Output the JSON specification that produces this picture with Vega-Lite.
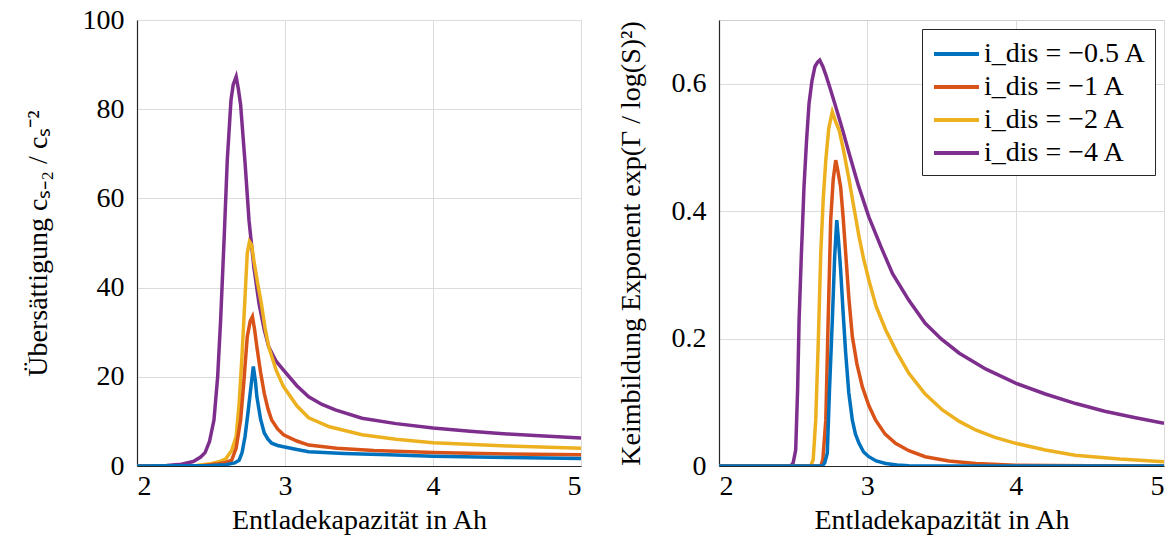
{
"$schema": "https://vega.github.io/schema/vega-lite/v6.json",
"padding": {"left": 23, "top": 5, "right": 0, "bottom": 0},
"bounds": "flush",
"spacing": 138,
"background": "white",
"config": {
  "font": "Liberation Serif",
  "view": {"stroke": "#cfcfcf", "strokeWidth": 1},
  "axis": {"labelFont": "Liberation Serif", "labelFontSize": 28, "labelColor": "#000000", "titleFont": "Liberation Serif", "titleFontSize": 28, "titleFontWeight": "normal", "titleColor": "#000000", "domainColor": "#262626", "domainWidth": 1.2, "ticks": false, "gridColor": "#dcdcdc", "gridWidth": 1, "labelPadding": 13},
  "axisX": {"labelPadding": 6, "titlePadding": 6},
  "legend": {"labelFont": "Liberation Serif", "labelFontSize": 28, "labelColor": "#000000", "labelLimit": 400}
},
"datasets": {
"L": [
{"s":"−4 A","x":2.0,"y":0},{"s":"−4 A","x":2.2,"y":0.1},{"s":"−4 A","x":2.3,"y":0.4},{"s":"−4 A","x":2.38,"y":1.0},{"s":"−4 A","x":2.43,"y":2},{"s":"−4 A","x":2.46,"y":3},{"s":"−4 A","x":2.49,"y":5.5},{"s":"−4 A","x":2.52,"y":10.3},{"s":"−4 A","x":2.545,"y":20},{"s":"−4 A","x":2.565,"y":32.7},{"s":"−4 A","x":2.59,"y":52},{"s":"−4 A","x":2.61,"y":68.6},{"s":"−4 A","x":2.635,"y":82},{"s":"−4 A","x":2.65,"y":85.5},{"s":"−4 A","x":2.67,"y":87.3},{"s":"−4 A","x":2.685,"y":84.5},{"s":"−4 A","x":2.70,"y":81},{"s":"−4 A","x":2.73,"y":68},{"s":"−4 A","x":2.757,"y":55},{"s":"−4 A","x":2.79,"y":44.5},{"s":"−4 A","x":2.824,"y":36.5},{"s":"−4 A","x":2.86,"y":30.5},{"s":"−4 A","x":2.89,"y":26.7},{"s":"−4 A","x":2.94,"y":23.5},{"s":"−4 A","x":2.99,"y":21.5},{"s":"−4 A","x":3.08,"y":18},{"s":"−4 A","x":3.16,"y":15.5},{"s":"−4 A","x":3.25,"y":13.8},{"s":"−4 A","x":3.34,"y":12.6},{"s":"−4 A","x":3.52,"y":10.7},{"s":"−4 A","x":3.75,"y":9.5},{"s":"−4 A","x":4.0,"y":8.5},{"s":"−4 A","x":4.25,"y":7.8},{"s":"−4 A","x":4.5,"y":7.2},{"s":"−4 A","x":4.75,"y":6.7},{"s":"−4 A","x":5.0,"y":6.3},
{"s":"−2 A","x":2.0,"y":0},{"s":"−2 A","x":2.4,"y":0.1},{"s":"−2 A","x":2.5,"y":0.5},{"s":"−2 A","x":2.56,"y":1},{"s":"−2 A","x":2.6,"y":1.6},{"s":"−2 A","x":2.64,"y":3.5},{"s":"−2 A","x":2.67,"y":6.6},{"s":"−2 A","x":2.69,"y":14},{"s":"−2 A","x":2.71,"y":25},{"s":"−2 A","x":2.73,"y":38},{"s":"−2 A","x":2.745,"y":47.7},{"s":"−2 A","x":2.76,"y":50.3},{"s":"−2 A","x":2.775,"y":49.5},{"s":"−2 A","x":2.79,"y":46},{"s":"−2 A","x":2.815,"y":41},{"s":"−2 A","x":2.84,"y":36.5},{"s":"−2 A","x":2.865,"y":31},{"s":"−2 A","x":2.89,"y":26.7},{"s":"−2 A","x":2.94,"y":21.5},{"s":"−2 A","x":2.99,"y":17.8},{"s":"−2 A","x":3.08,"y":13.5},{"s":"−2 A","x":3.16,"y":10.8},{"s":"−2 A","x":3.3,"y":8.8},{"s":"−2 A","x":3.52,"y":7},{"s":"−2 A","x":3.75,"y":6},{"s":"−2 A","x":4.0,"y":5.2},{"s":"−2 A","x":4.5,"y":4.5},{"s":"−2 A","x":5.0,"y":4.0},
{"s":"−1 A","x":2.0,"y":0},{"s":"−1 A","x":2.45,"y":0.1},{"s":"−1 A","x":2.55,"y":0.5},{"s":"−1 A","x":2.6,"y":0.8},{"s":"−1 A","x":2.64,"y":1.3},{"s":"−1 A","x":2.67,"y":4},{"s":"−1 A","x":2.70,"y":10.3},{"s":"−1 A","x":2.72,"y":18},{"s":"−1 A","x":2.745,"y":29},{"s":"−1 A","x":2.765,"y":32.5},{"s":"−1 A","x":2.78,"y":33.5},{"s":"−1 A","x":2.795,"y":30.5},{"s":"−1 A","x":2.81,"y":26.7},{"s":"−1 A","x":2.835,"y":21},{"s":"−1 A","x":2.86,"y":16.3},{"s":"−1 A","x":2.885,"y":12.8},{"s":"−1 A","x":2.91,"y":10.3},{"s":"−1 A","x":2.95,"y":8.3},{"s":"−1 A","x":2.99,"y":7},{"s":"−1 A","x":3.08,"y":5.6},{"s":"−1 A","x":3.16,"y":4.7},{"s":"−1 A","x":3.35,"y":4},{"s":"−1 A","x":3.6,"y":3.5},{"s":"−1 A","x":4.0,"y":3.0},{"s":"−1 A","x":4.5,"y":2.7},{"s":"−1 A","x":5.0,"y":2.5},
{"s":"−0.5 A","x":2.0,"y":0},{"s":"−0.5 A","x":2.5,"y":0.1},{"s":"−0.5 A","x":2.6,"y":0.3},{"s":"−0.5 A","x":2.66,"y":0.7},{"s":"−0.5 A","x":2.69,"y":1.3},{"s":"−0.5 A","x":2.71,"y":3},{"s":"−0.5 A","x":2.73,"y":6.6},{"s":"−0.5 A","x":2.75,"y":12},{"s":"−0.5 A","x":2.77,"y":17.8},{"s":"−0.5 A","x":2.786,"y":22.3},{"s":"−0.5 A","x":2.80,"y":19},{"s":"−0.5 A","x":2.81,"y":15.5},{"s":"−0.5 A","x":2.835,"y":10.5},{"s":"−0.5 A","x":2.86,"y":7.4},{"s":"−0.5 A","x":2.885,"y":6},{"s":"−0.5 A","x":2.91,"y":5.1},{"s":"−0.5 A","x":2.95,"y":4.6},{"s":"−0.5 A","x":2.99,"y":4.3},{"s":"−0.5 A","x":3.08,"y":3.7},{"s":"−0.5 A","x":3.16,"y":3.2},{"s":"−0.5 A","x":3.4,"y":2.8},{"s":"−0.5 A","x":3.7,"y":2.5},{"s":"−0.5 A","x":4.0,"y":2.2},{"s":"−0.5 A","x":4.5,"y":1.9},{"s":"−0.5 A","x":5.0,"y":1.7}
],
"R": [
{"s":"−4 A","x":2.0,"y":0},{"s":"−4 A","x":2.483,"y":0},{"s":"−4 A","x":2.5,"y":0.005},{"s":"−4 A","x":2.517,"y":0.025},{"s":"−4 A","x":2.53,"y":0.12},{"s":"−4 A","x":2.54,"y":0.229},{"s":"−4 A","x":2.555,"y":0.33},{"s":"−4 A","x":2.573,"y":0.438},{"s":"−4 A","x":2.59,"y":0.51},{"s":"−4 A","x":2.607,"y":0.569},{"s":"−4 A","x":2.627,"y":0.605},{"s":"−4 A","x":2.647,"y":0.627},{"s":"−4 A","x":2.665,"y":0.634},{"s":"−4 A","x":2.679,"y":0.637},{"s":"−4 A","x":2.70,"y":0.627},{"s":"−4 A","x":2.72,"y":0.614},{"s":"−4 A","x":2.75,"y":0.592},{"s":"−4 A","x":2.787,"y":0.564},{"s":"−4 A","x":2.83,"y":0.53},{"s":"−4 A","x":2.877,"y":0.491},{"s":"−4 A","x":2.94,"y":0.44},{"s":"−4 A","x":3.01,"y":0.391},{"s":"−4 A","x":3.09,"y":0.345},{"s":"−4 A","x":3.17,"y":0.302},{"s":"−4 A","x":3.28,"y":0.26},{"s":"−4 A","x":3.39,"y":0.224},{"s":"−4 A","x":3.5,"y":0.199},{"s":"−4 A","x":3.62,"y":0.177},{"s":"−4 A","x":3.8,"y":0.152},{"s":"−4 A","x":4.0,"y":0.130},{"s":"−4 A","x":4.2,"y":0.113},{"s":"−4 A","x":4.405,"y":0.098},{"s":"−4 A","x":4.6,"y":0.086},{"s":"−4 A","x":4.8,"y":0.076},{"s":"−4 A","x":5.0,"y":0.067},
{"s":"−2 A","x":2.0,"y":0},{"s":"−2 A","x":2.618,"y":0},{"s":"−2 A","x":2.635,"y":0.01},{"s":"−2 A","x":2.652,"y":0.072},{"s":"−2 A","x":2.67,"y":0.2},{"s":"−2 A","x":2.686,"y":0.334},{"s":"−2 A","x":2.703,"y":0.42},{"s":"−2 A","x":2.72,"y":0.48},{"s":"−2 A","x":2.74,"y":0.53},{"s":"−2 A","x":2.764,"y":0.556},{"s":"−2 A","x":2.787,"y":0.54},{"s":"−2 A","x":2.81,"y":0.527},{"s":"−2 A","x":2.84,"y":0.495},{"s":"−2 A","x":2.877,"y":0.449},{"s":"−2 A","x":2.91,"y":0.405},{"s":"−2 A","x":2.944,"y":0.36},{"s":"−2 A","x":2.975,"y":0.325},{"s":"−2 A","x":3.01,"y":0.292},{"s":"−2 A","x":3.06,"y":0.25},{"s":"−2 A","x":3.124,"y":0.2135},{"s":"−2 A","x":3.2,"y":0.178},{"s":"−2 A","x":3.28,"y":0.1455},{"s":"−2 A","x":3.39,"y":0.113},{"s":"−2 A","x":3.506,"y":0.088},{"s":"−2 A","x":3.62,"y":0.07},{"s":"−2 A","x":3.73,"y":0.0565},{"s":"−2 A","x":3.86,"y":0.045},{"s":"−2 A","x":4.0,"y":0.0356},{"s":"−2 A","x":4.2,"y":0.025},{"s":"−2 A","x":4.4,"y":0.017},{"s":"−2 A","x":4.7,"y":0.011},{"s":"−2 A","x":5.0,"y":0.0068},
{"s":"−1 A","x":2.0,"y":0},{"s":"−1 A","x":2.686,"y":0},{"s":"−1 A","x":2.70,"y":0.01},{"s":"−1 A","x":2.72,"y":0.072},{"s":"−1 A","x":2.735,"y":0.22},{"s":"−1 A","x":2.753,"y":0.386},{"s":"−1 A","x":2.77,"y":0.45},{"s":"−1 A","x":2.787,"y":0.48},{"s":"−1 A","x":2.80,"y":0.465},{"s":"−1 A","x":2.82,"y":0.438},{"s":"−1 A","x":2.837,"y":0.39},{"s":"−1 A","x":2.854,"y":0.334},{"s":"−1 A","x":2.875,"y":0.265},{"s":"−1 A","x":2.899,"y":0.203},{"s":"−1 A","x":2.93,"y":0.16},{"s":"−1 A","x":2.966,"y":0.1245},{"s":"−1 A","x":3.01,"y":0.095},{"s":"−1 A","x":3.056,"y":0.072},{"s":"−1 A","x":3.12,"y":0.05},{"s":"−1 A","x":3.19,"y":0.0356},{"s":"−1 A","x":3.28,"y":0.024},{"s":"−1 A","x":3.39,"y":0.0146},{"s":"−1 A","x":3.55,"y":0.008},{"s":"−1 A","x":3.73,"y":0.004},{"s":"−1 A","x":4.0,"y":0.001},{"s":"−1 A","x":4.5,"y":0.0002},{"s":"−1 A","x":5.0,"y":0},
{"s":"−0.5 A","x":2.0,"y":0},{"s":"−0.5 A","x":2.697,"y":0},{"s":"−0.5 A","x":2.713,"y":0.005},{"s":"−0.5 A","x":2.73,"y":0.02},{"s":"−0.5 A","x":2.745,"y":0.12},{"s":"−0.5 A","x":2.764,"y":0.229},{"s":"−0.5 A","x":2.78,"y":0.33},{"s":"−0.5 A","x":2.794,"y":0.386},{"s":"−0.5 A","x":2.807,"y":0.35},{"s":"−0.5 A","x":2.82,"y":0.308},{"s":"−0.5 A","x":2.837,"y":0.24},{"s":"−0.5 A","x":2.854,"y":0.177},{"s":"−0.5 A","x":2.875,"y":0.115},{"s":"−0.5 A","x":2.899,"y":0.072},{"s":"−0.5 A","x":2.92,"y":0.05},{"s":"−0.5 A","x":2.944,"y":0.0356},{"s":"−0.5 A","x":2.975,"y":0.022},{"s":"−0.5 A","x":3.01,"y":0.0146},{"s":"−0.5 A","x":3.06,"y":0.008},{"s":"−0.5 A","x":3.124,"y":0.004},{"s":"−0.5 A","x":3.2,"y":0.0015},{"s":"−0.5 A","x":3.28,"y":0.0005},{"s":"−0.5 A","x":3.5,"y":0},{"s":"−0.5 A","x":5.0,"y":0}
]
},
"resolve": {"scale": {"color": "independent"}},
"hconcat": [
{
  "width": 444, "height": 446,
  "data": {"name": "L"},
  "mark": {"type": "line", "strokeWidth": 3.5, "clip": true},
  "encoding": {
    "x": {"field": "x", "type": "quantitative", "scale": {"domain": [2, 5], "nice": false}, "axis": {"values": [2, 3, 4, 5], "format": "d", "title": "Entladekapazität in Ah"}},
    "y": {"field": "y", "type": "quantitative", "scale": {"domain": [0, 100], "nice": false}, "axis": {"values": [0, 20, 40, 60, 80, 100], "title": "Übersättigung cₛ₋₂ / cₛ⁻²", "titlePadding": 30}},
    "color": {"field": "s", "type": "nominal", "scale": {"domain": ["−0.5 A", "−1 A", "−2 A", "−4 A"], "range": ["#0072BD", "#D95319", "#EDB120", "#7E2F8E"]}, "legend": null},
    "order": {"field": "x", "type": "quantitative"}
  }
},
{
  "width": 445, "height": 446,
  "data": {"name": "R"},
  "mark": {"type": "line", "strokeWidth": 3.5, "clip": true},
  "encoding": {
    "x": {"field": "x", "type": "quantitative", "scale": {"domain": [2, 5], "nice": false}, "axis": {"values": [2, 3, 4, 5], "format": "d", "title": "Entladekapazität in Ah"}},
    "y": {"field": "y", "type": "quantitative", "scale": {"domain": [0, 0.7], "nice": false}, "axis": {"values": [0, 0.2, 0.4, 0.6], "labelExpr": "datum.value == 0 ? '0' : format(datum.value, '.1f')", "title": "Keimbildung Exponent exp(Γ / log(S)²)", "titlePadding": 26}},
    "color": {"field": "s", "type": "nominal", "scale": {"domain": ["−0.5 A", "−1 A", "−2 A", "−4 A"], "range": ["#0072BD", "#D95319", "#EDB120", "#7E2F8E"]}, "legend": {"title": null, "orient": "top-right", "offset": 9, "padding": 8, "strokeColor": "#262626", "fillColor": "white", "symbolType": "M-1,0H2", "symbolSize": 900, "symbolStrokeWidth": 4, "symbolOffset": 2, "labelOffset": 18, "rowPadding": 2, "labelLimit": 400, "labelExpr": "'i_dis = ' + datum.label"}},
    "order": {"field": "x", "type": "quantitative"}
  }
}
]
}
